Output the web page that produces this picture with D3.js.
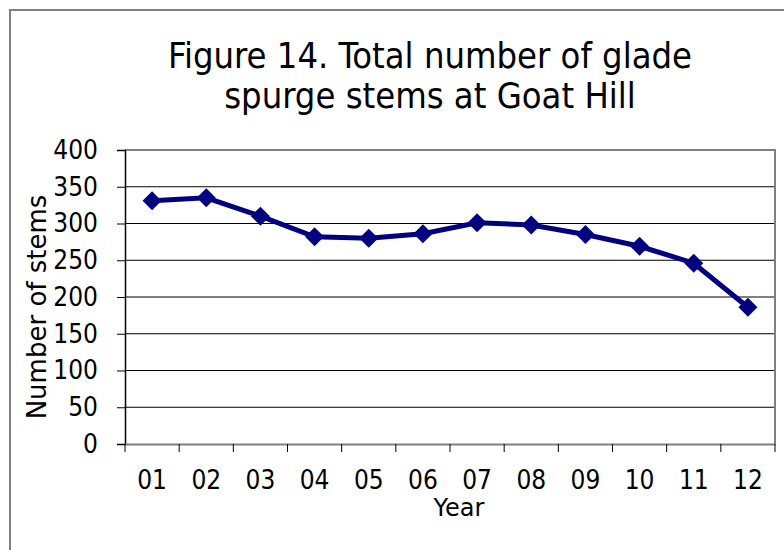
<!DOCTYPE html>
<html><head><meta charset="utf-8">
<script src="https://cdn.jsdelivr.net/npm/d3@7"></script>
<style>body{margin:0;background:#fff}svg{display:block}</style>
</head><body>
<script>
const years = ["01","02","03","04","05","06","07","08","09","10","11","12"];
const stems = [331, 335, 310, 282, 280, 286, 301, 298, 285, 269, 246, 186];
const yTicks = [0,50,100,150,200,250,300,350,400];
const titleLines = ["Figure 14. Total number of glade","spurge stems at Goat Hill"];

const W=784,H=550;
const svg=d3.select("body").append("svg").attr("width",W).attr("height",H);
const font="'DejaVu Sans Condensed', 'DejaVu Sans', sans-serif";
const fontWide="'DejaVu Sans', Verdana, sans-serif";
// outer frame
svg.append("path").attr("d",`M10,${H} L10,10 L${W},10`).attr("fill","none").attr("stroke","#808080").attr("stroke-width",2);

const L=125,R=775,T=150,B=444;
const x=d3.scaleBand().domain(years).range([L,R]);
const y=d3.scaleLinear().domain([0,400]).range([B,T]);

// gridlines
svg.append("g").selectAll("line").data(yTicks.filter(d=>d>0)).join("line")
 .attr("x1",L).attr("x2",R).attr("y1",d=>y(d)).attr("y2",d=>y(d)).attr("stroke","#000").attr("stroke-width",1);
// plot border top/right gray
svg.append("path").attr("d",`M${L},${T} L${R},${T} L${R},${B}`).attr("fill","none").attr("stroke","#808080").attr("stroke-width",2);

// y axis
const ya=svg.append("g").attr("transform",`translate(${L},0)`).call(d3.axisLeft(y).tickValues(yTicks).tickSize(8).tickPadding(19));
ya.select(".domain").attr("stroke","#000").attr("stroke-width",1.5);
ya.selectAll(".tick line").attr("stroke","#000");
ya.selectAll("text").attr("font-family",font).attr("font-size",26).attr("fill","#000");

// x axis
const xa=svg.append("g").attr("transform",`translate(0,${B})`).call(d3.axisBottom(x).tickSize(0).tickPadding(0));
xa.select(".domain").attr("stroke","#808080").attr("stroke-width",2);
xa.selectAll("text").attr("font-family",font).attr("font-size",26).attr("fill","#000").attr("dy",null).attr("y",45);
// category boundary ticks
const bounds=years.map(d=>x(d)).concat([R]);
svg.append("g").selectAll("line").data(bounds).join("line")
 .attr("x1",d=>d).attr("x2",d=>d).attr("y1",B).attr("y2",B+8).attr("stroke","#000");

// line
const line=d3.line().x((d,i)=>x(years[i])+x.bandwidth()/2).y(d=>y(d));
svg.append("path").datum(stems).attr("d",line).attr("fill","none").attr("stroke","#000080").attr("stroke-width",5);
svg.append("g").selectAll("path").data(stems).join("path")
 .attr("transform",(d,i)=>`translate(${x(years[i])+x.bandwidth()/2},${y(d)})`)
 .attr("d",d3.symbol(d3.symbolDiamond2,230)).attr("fill","#000080");

// title
svg.append("text").attr("text-anchor","middle").attr("font-family",font).attr("font-size",36).attr("fill","#000")
 .selectAll("tspan").data(titleLines).join("tspan").attr("x",430).attr("y",(d,i)=>68+i*40).text(d=>d);

// axis titles
svg.append("text").attr("x",459).attr("y",516).attr("text-anchor","middle").attr("font-family",fontWide).attr("font-size",24).text("Year");
svg.append("text").attr("transform","translate(46,307) rotate(-90)").attr("text-anchor","middle").attr("font-family",fontWide).attr("font-size",26).text("Number of stems");
</script>
</body></html>
